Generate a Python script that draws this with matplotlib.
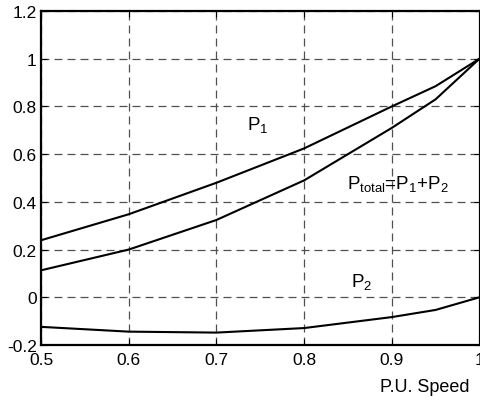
import matplotlib
matplotlib.use('Agg')
import matplotlib.pyplot as plt

plt.rcParams['font.family'] = ['Liberation Sans', 'DejaVu Sans']

speed = [0.5, 0.6, 0.7, 0.8, 0.9, 0.95, 1.0]
p1 = [0.239, 0.348, 0.48, 0.624, 0.80, 0.885, 1.0]
p_total = [0.113, 0.20, 0.324, 0.49, 0.71, 0.83, 1.0]
p2 = [-0.124, -0.144, -0.148, -0.129, -0.083, -0.053, 0.0]

xticks = [0.5, 0.6, 0.7, 0.8, 0.9, 1.0]
xlabels = ['0.5', '0.6', '0.7', '0.8', '0.9', '1']
yticks = [-0.2, 0, 0.2, 0.4, 0.6, 0.8, 1.0, 1.2]
ylabels = ['-0.2', '0', '0.2', '0.4', '0.6', '0.8', '1', '1.2']

fig = plt.figure(figsize=(4.8, 4.02), dpi=100)
ax = fig.add_axes([41 / 480, 56 / 402, 438.5 / 480, 334 / 402])

for y in (p1, p_total, p2):
    ax.plot(speed, y, color='black', lw=1.5)

ax.set_xlim(0.5, 1.0)
ax.set_ylim(-0.2, 1.2)
ax.set_xticks(xticks)
ax.set_xticklabels(xlabels)
ax.set_yticks(yticks)
ax.set_yticklabels(ylabels)
ax.grid(True, ls=(0, (6.4, 4)), color='#505050', lw=0.9)
ax.tick_params(direction='in', length=4, labelsize=12.5, right=True, top=True)
ax.tick_params(axis='x', pad=5)
ax.tick_params(axis='y', pad=3)
for s in ax.spines.values():
    s.set_linewidth(1.6)

ax.text(0.735, 0.725, '$\\mathregular{P_1}$', fontsize=13.5, va='center')
ax.text(0.849, 0.48, '$\\mathregular{P_{total}}$=$\\mathregular{P_1}$+$\\mathregular{P_2}$', fontsize=13.5, va='center')
ax.text(0.853, 0.068, '$\\mathregular{P_2}$', fontsize=13.5, va='center')

fig.text(470 / 480, 14 / 402, 'P.U. Speed', fontsize=13, ha='right', va='center')

fig.savefig('out.png', dpi=100)
